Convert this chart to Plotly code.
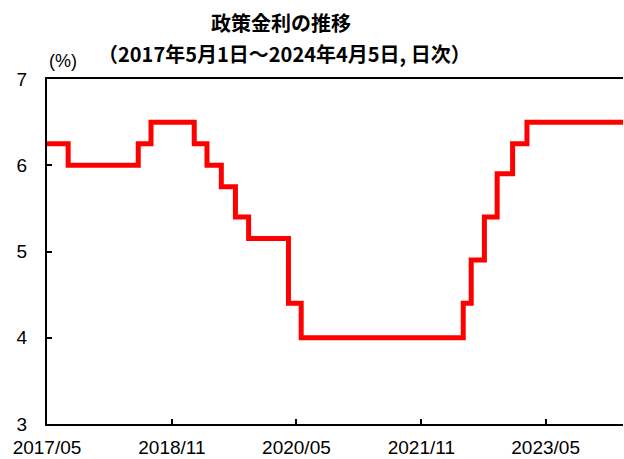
import plotly.graph_objects as go

# Policy rate change dates and levels (%)
change_dates = ["2017-05-01", "2017-08-02", "2018-06-06", "2018-08-01", "2019-02-07",
                "2019-04-04", "2019-06-06", "2019-08-07", "2019-10-04", "2020-03-27",
                "2020-05-22", "2022-05-04", "2022-06-08", "2022-08-05", "2022-09-30",
                "2022-12-07", "2023-02-08", "2024-04-05"]
rates = [6.25, 6.00, 6.25, 6.50, 6.25, 6.00, 5.75, 5.40, 5.15, 4.40,
         4.00, 4.40, 4.90, 5.40, 5.90, 6.25, 6.50, 6.50]

tick_dates = ["2017-05-01", "2018-11-01", "2020-05-01", "2021-11-01", "2023-05-01"]
tick_labels = ["2017/05", "2018/11", "2020/05", "2021/11", "2023/05"]
y_ticks = [3, 4, 5, 6, 7]

title_main = "政策金利の推移"
title_sub = "（2017年5月1日～2024年4月5日, 日次）"

L, R, T, B = 47, 1, 79, 35
W, H = 624, 459
pw = W - L - R
ph = H - T - B


def px(x):
    return (x - L) / pw


def py(y):
    return (H - B - y) / ph


fig = go.Figure()
fig.add_trace(go.Scatter(
    x=change_dates, y=rates, mode="lines", line_shape="hv",
    line=dict(color="#FF0000", width=5), showlegend=False,
))

fig.update_layout(
    width=W, height=H,
    margin=dict(l=L, r=R, t=T, b=B),
    paper_bgcolor="white", plot_bgcolor="white",
    font=dict(family="Liberation Sans, Arial, sans-serif", size=19, color="black"),
    annotations=[
        dict(text="<b>" + title_main + "</b>", x=px(281), y=py(22), xref="paper", yref="paper",
             xanchor="center", yanchor="middle", showarrow=False,
             font=dict(family="Noto Sans CJK JP", size=20)),
        dict(text="<b>" + title_sub + "</b>", x=px(284), y=py(53), xref="paper", yref="paper",
             xanchor="center", yanchor="middle", showarrow=False,
             font=dict(family="Noto Sans CJK JP", size=20)),
        dict(text="(%)", x=px(63), y=py(61), xref="paper", yref="paper",
             xanchor="center", yanchor="middle", showarrow=False,
             font=dict(family="Liberation Sans, Arial, sans-serif", size=18)),
    ],
)

fig.update_xaxes(
    type="date", range=["2017-05-01", "2024-04-05"],
    tickvals=tick_dates, ticktext=tick_labels,
    ticks="inside", ticklen=5, tickwidth=2, tickcolor="black",
    showline=True, linecolor="black", linewidth=2, mirror=True,
    showgrid=False, zeroline=False, tickfont=dict(size=19),
    automargin=False, ticklabelstandoff=5,
)
fig.update_yaxes(
    range=[3, 7], tickvals=y_ticks,
    ticks="inside", ticklen=5, tickwidth=2, tickcolor="black",
    showline=True, linecolor="black", linewidth=2,
    showgrid=False, zeroline=False, tickfont=dict(size=19),
    automargin=False, ticklabelstandoff=14,
)

fig.write_html("out.html", config={"displayModeBar": False},
               post_script="document.body.style.margin='0';document.body.style.overflow='hidden';")
